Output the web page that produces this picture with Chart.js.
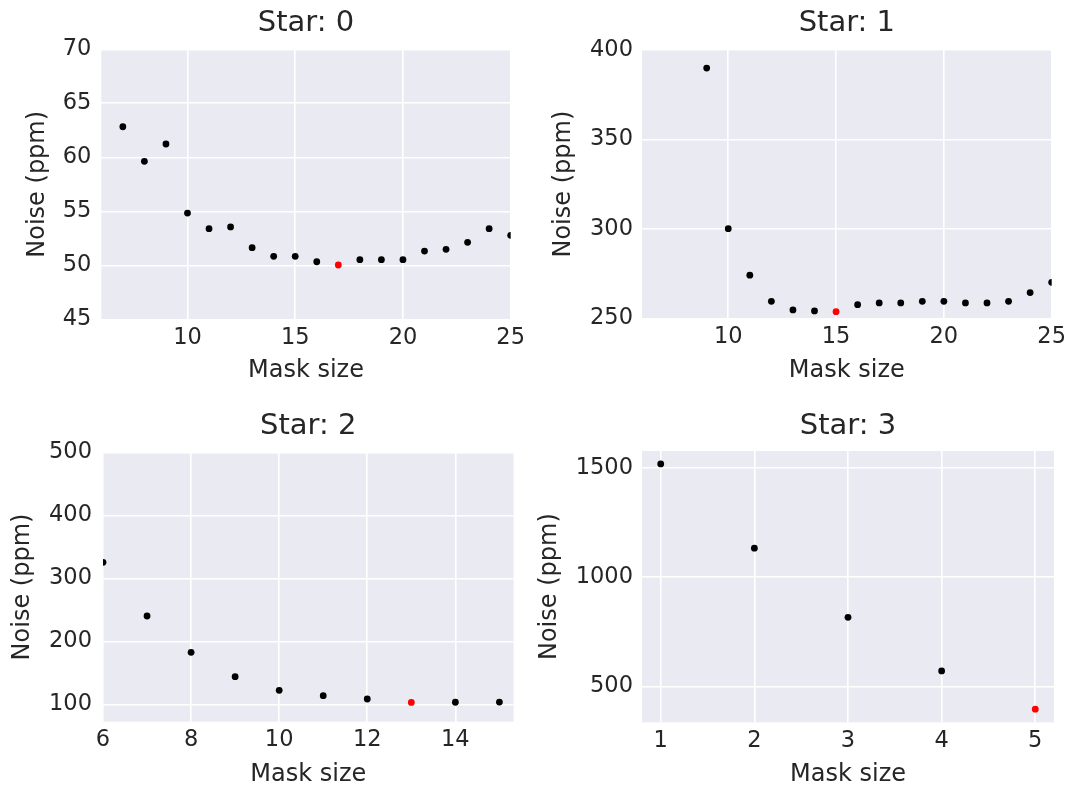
<!DOCTYPE html>
<html lang="en">
<head>
<meta charset="UTF-8">
<title>Noise vs mask size</title>
<script src="https://cdn.jsdelivr.net/npm/chart.js"></script>
<style>
    body {
        margin: 0;
        background: #ffffff;
    }

    #figure {
        position: relative;
        width: 1071px;
        height: 789px;
    }

    .panel {
        position: absolute;
    }
</style>
</head>
<body>
<div id="figure">
    <div class="panel" style="left:0;top:0;width:530px;height:395px"><canvas id="star0"></canvas></div>
    <div class="panel" style="left:530px;top:0;width:541px;height:395px"><canvas id="star1"></canvas></div>
    <div class="panel" style="left:0;top:395px;width:530px;height:394px"><canvas id="star2"></canvas></div>
    <div class="panel" style="left:530px;top:395px;width:541px;height:394px"><canvas id="star3"></canvas></div>
</div>

<script>
    // Noise (ppm) measured for each aperture mask size, one set per star
    const star0Masks = [7, 8, 9, 10, 11, 12, 13, 14, 15, 16, 17, 18, 19, 20, 21, 22, 23, 24, 25];
    const star0Noise = [62.83, 59.63, 61.23, 54.84, 53.39, 53.55, 51.63, 50.83, 50.83, 50.33,
        50.03, 50.52, 50.52, 50.52, 51.32, 51.48, 52.13, 53.39, 52.78];
    const star0XTicks = [10, 15, 20, 25];
    const star0YTicks = [45, 50, 55, 60, 65, 70];
    const star0XRange = [6, 25];
    const star0YRange = [45, 70];

    const star1Masks = [9, 10, 11, 12, 13, 14, 15, 16, 17, 18, 19, 20, 21, 22, 23, 24, 25];
    const star1Noise = [389.9, 300.1, 274.1, 259.5, 254.7, 254.1, 253.7, 257.6, 258.6, 258.6,
        259.5, 259.5, 258.6, 258.6, 259.5, 264.4, 270.1];
    const star1XTicks = [10, 15, 20, 25];
    const star1YTicks = [250, 300, 350, 400];
    const star1XRange = [6, 25];
    const star1YRange = [250, 400];

    const star2Masks = [6, 7, 8, 9, 10, 11, 12, 13, 14, 15];
    const star2Noise = [325.4, 240.2, 182.5, 143.8, 122.2, 113.7, 108.4, 103.0, 103.3, 103.5];
    const star2XTicks = [6, 8, 10, 12, 14];
    const star2YTicks = [100, 200, 300, 400, 500];
    const star2XRange = [6, 15.32];
    const star2YRange = [72.4, 500];

    const star3Masks = [1, 2, 3, 4, 5];
    const star3Noise = [1518, 1133, 817, 572, 397];
    const star3XTicks = [1, 2, 3, 4, 5];
    const star3YTicks = [500, 1000, 1500];
    const star3XRange = [0.8, 5.2];
    const star3YRange = [337, 1577];

    const textColor = '#262626';
    const fontFamily = "'DejaVu Sans', sans-serif";

    // seaborn-like grey plotting area
    const plotBackground = {
        id: 'plotBackground',
        beforeDraw(chart) {
            const { ctx, chartArea } = chart;
            ctx.save();
            ctx.fillStyle = '#eaeaf2';
            ctx.fillRect(chartArea.left, chartArea.top, chartArea.width, chartArea.height);
            ctx.restore();
        }
    };

    const makePanel = (id, star, masks, noise, xTicks, yTicks, xRange, yRange, box) => {
        // the lowest-noise mask is highlighted in red
        const best = noise.indexOf(Math.min(...noise));
        const colors = noise.map((v, i) => i === best ? '#ff0000' : '#000000');

        return new Chart(document.getElementById(id), {
            type: 'scatter',
            data: {
                datasets: [{
                    data: masks.map((m, i) => ({ x: m, y: noise[i] })),
                    pointBackgroundColor: colors,
                    pointBorderWidth: 0,
                    pointRadius: 3.4,
                    pointHoverRadius: 3.4,
                    clip: 0
                }]
            },
            options: {
                responsive: true,
                maintainAspectRatio: false,
                animation: false,
                events: [],
                layout: { padding: { left: 0, top: 0, right: box.right, bottom: 0 } },
                plugins: {
                    legend: { display: false },
                    tooltip: { enabled: false },
                    title: {
                        display: true,
                        text: 'Star: ' + star,
                        color: textColor,
                        fullSize: false,
                        font: { family: fontFamily, size: 29, weight: 'normal', lineHeight: 1.2 },
                        padding: { top: box.titleTop, bottom: box.titleBottom }
                    }
                },
                scales: {
                    x: {
                        type: 'linear',
                        min: xRange[0],
                        max: xRange[1],
                        afterBuildTicks: (scale) => { scale.ticks = xTicks.map(v => ({ value: v })); },
                        afterFit: (scale) => { scale.height = box.xAxisHeight; },
                        grid: { color: '#ffffff', lineWidth: 1.6, drawTicks: false },
                        border: { display: false },
                        ticks: {
                            color: textColor,
                            autoSkip: false,
                            maxRotation: 0,
                            padding: 5,
                            callback: (v) => String(v),
                            font: { family: fontFamily, size: 22.5 }
                        },
                        title: {
                            display: true,
                            text: 'Mask size',
                            color: textColor,
                            font: { family: fontFamily, size: 24 },
                            padding: { top: 0, bottom: box.xTitlePad }
                        }
                    },
                    y: {
                        type: 'linear',
                        min: yRange[0],
                        max: yRange[1],
                        afterBuildTicks: (scale) => { scale.ticks = yTicks.map(v => ({ value: v })); },
                        afterFit: (scale) => { scale.width = box.yAxisWidth; },
                        grid: { color: '#ffffff', lineWidth: 1.6, drawTicks: false },
                        border: { display: false },
                        ticks: {
                            color: textColor,
                            autoSkip: false,
                            padding: box.yTickPad,
                            callback: (v) => String(v),
                            font: { family: fontFamily, size: 22.5 }
                        },
                        title: {
                            display: true,
                            text: 'Noise (ppm)',
                            color: textColor,
                            font: { family: fontFamily, size: 24 },
                            padding: { top: box.yTitlePad, bottom: 0 }
                        }
                    }
                }
            },
            plugins: [plotBackground]
        });
    };

    makePanel('star0', 0, star0Masks, star0Noise, star0XTicks, star0YTicks, star0XRange, star0YRange,
        { right: 16.5, yAxisWidth: 101.3, xAxisHeight: 75.7, titleTop: 6, titleBottom: 8.5, yTickPad: 10, yTitlePad: 23, xTitlePad: 10 });
    makePanel('star1', 1, star1Masks, star1Noise, star1XTicks, star1YTicks, star1XRange, star1YRange,
        { right: 17, yAxisWidth: 112, xAxisHeight: 76.7, titleTop: 6, titleBottom: 9.2, yTickPad: 9, yTitlePad: 19, xTitlePad: 10 });
    makePanel('star2', 2, star2Masks, star2Noise, star2XTicks, star2YTicks, star2XRange, star2YRange,
        { right: 16.5, yAxisWidth: 103, xAxisHeight: 67.3, titleTop: 14, titleBottom: 8.5, yTickPad: 11, yTitlePad: 8, xTitlePad: 0 });
    makePanel('star3', 3, star3Masks, star3Noise, star3XTicks, star3YTicks, star3XRange, star3YRange,
        { right: 17, yAxisWidth: 112, xAxisHeight: 66.7, titleTop: 14, titleBottom: 7.2, yTickPad: 9, yTitlePad: 5.6, xTitlePad: 0 });
</script>
</body>
</html>
